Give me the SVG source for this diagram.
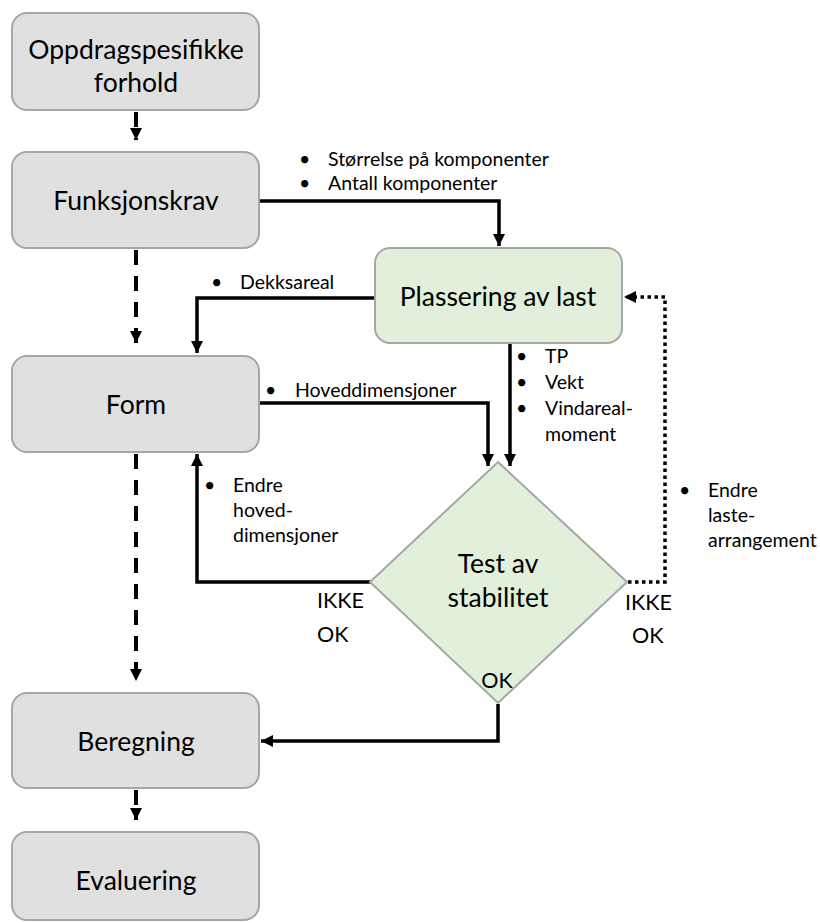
<svg xmlns="http://www.w3.org/2000/svg" width="820" height="923" viewBox="0 0 820 923">
  <style>
    .box { fill: #e0e0e0; stroke: #a6a6a6; stroke-width: 2; }
    .green { fill: #e2efda; stroke: #a6a6a6; stroke-width: 2; }
    .lbl { font-family: Lato, "Open Sans", "Liberation Sans", sans-serif; font-size: 26.5px; fill: #000; text-anchor: middle; }
    .sm { font-family: Lato, "Open Sans", "Liberation Sans", sans-serif; font-size: 19.5px; fill: #000; }
    .ok { font-family: Lato, "Open Sans", "Liberation Sans", sans-serif; font-size: 21.5px; fill: #000; }
    .solid { fill: none; stroke: #000; stroke-width: 3.5; }
    .dash { fill: none; stroke: #000; stroke-width: 4; stroke-dasharray: 15 11; }
    .dot { fill: none; stroke: #000; stroke-width: 3.5; stroke-dasharray: 3.5 3.5; }
  </style>
  <defs>
    <marker id="arrow" viewBox="0 0 10 10" refX="10" refY="5" markerWidth="12" markerHeight="12" markerUnits="userSpaceOnUse" orient="auto">
      <path d="M0,0 L10,5 L0,10 Z" fill="#000"/>
    </marker>
  </defs>

  <!-- connectors -->
  <g id="connectors">
    <!-- main dashed spine -->
    <path class="dash" d="M136,112 V140" marker-end="url(#arrow)"/>
    <path class="dash" d="M136,250 V343" marker-end="url(#arrow)"/>
    <path class="dash" d="M136,454 V681" marker-end="url(#arrow)"/>
    <path class="dash" d="M136,790 V820" marker-end="url(#arrow)"/>
    <!-- Funksjonskrav to Plassering av last -->
    <path class="solid" d="M259,201 H499 V246" marker-end="url(#arrow)"/>
    <!-- Plassering av last to Form -->
    <path class="solid" d="M375,298 H197 V353" marker-end="url(#arrow)"/>
    <!-- Form to stability test -->
    <path class="solid" d="M259,403 H488 V466" marker-end="url(#arrow)"/>
    <!-- Plassering av last to stability test -->
    <path class="solid" d="M510,343 V466" marker-end="url(#arrow)"/>
    <!-- not OK: back to Form -->
    <path class="solid" d="M371,582 H197 V454" marker-end="url(#arrow)"/>
    <!-- not OK: back to Plassering av last -->
    <path class="dot" d="M628,582 H665 V297 H624" marker-end="url(#arrow)"/>
    <!-- OK: on to Beregning -->
    <path class="solid" d="M498,704 V741 H261" marker-end="url(#arrow)"/>
  </g>

  <g id="oppdrag">
    <rect class="box" x="12" y="13" width="247" height="97" rx="15"/>
    <text class="lbl" x="136" y="59">Oppdragspesifikke</text>
    <text class="lbl" x="136" y="92">forhold</text>
  </g>
  <g id="funksjonskrav">
    <rect class="box" x="12" y="152" width="247" height="96" rx="15"/>
    <text class="lbl" x="136" y="210">Funksjonskrav</text>
  </g>
  <g id="plassering">
    <rect class="green" x="375" y="248" width="247" height="95" rx="15"/>
    <text class="lbl" x="498" y="306">Plassering av last</text>
  </g>
  <g id="form">
    <rect class="box" x="12" y="356" width="247" height="96" rx="15"/>
    <text class="lbl" x="136" y="414">Form</text>
  </g>
  <g id="stabilitet">
    <polygon class="green" points="498,462 627,582 498,703 370,582"/>
    <text class="lbl" x="498" y="573">Test av</text>
    <text class="lbl" x="498" y="607">stabilitet</text>
  </g>
  <g id="beregning">
    <rect class="box" x="12" y="693" width="247" height="95" rx="15"/>
    <text class="lbl" x="136" y="751">Beregning</text>
  </g>
  <g id="evaluering">
    <rect class="box" x="12" y="832" width="247" height="88" rx="15"/>
    <text class="lbl" x="136" y="890">Evaluering</text>
  </g>

  <!-- connector labels -->
  <g id="labels">
    <text class="sm" x="299" y="166">•</text>
    <text class="sm" x="328" y="166">Størrelse på komponenter</text>
    <text class="sm" x="299" y="190">•</text>
    <text class="sm" x="328" y="190">Antall komponenter</text>

    <text class="sm" x="211" y="289">•</text>
    <text class="sm" x="240" y="289">Dekksareal</text>

    <text class="sm" x="265" y="397">•</text>
    <text class="sm" x="295" y="397">Hoveddimensjoner</text>

    <text class="sm" x="516" y="363">•</text>
    <text class="sm" x="545" y="363">TP</text>
    <text class="sm" x="516" y="389">•</text>
    <text class="sm" x="545" y="389">Vekt</text>
    <text class="sm" x="516" y="415">•</text>
    <text class="sm" x="545" y="415">Vindareal-</text>
    <text class="sm" x="545" y="441">moment</text>

    <text class="sm" x="204" y="492">•</text>
    <text class="sm" x="233" y="492">Endre</text>
    <text class="sm" x="233" y="517">hoved-</text>
    <text class="sm" x="233" y="542">dimensjoner</text>

    <text class="sm" x="679" y="497">•</text>
    <text class="sm" x="708" y="497">Endre</text>
    <text class="sm" x="708" y="522">laste-</text>
    <text class="sm" x="708" y="547">arrangement</text>

    <text class="ok" x="317" y="608">IKKE</text>
    <text class="ok" x="317" y="642">OK</text>
    <text class="ok" x="625" y="610">IKKE</text>
    <text class="ok" x="632" y="643">OK</text>
    <text class="ok" x="497" y="688" text-anchor="middle">OK</text>
  </g>
</svg>
